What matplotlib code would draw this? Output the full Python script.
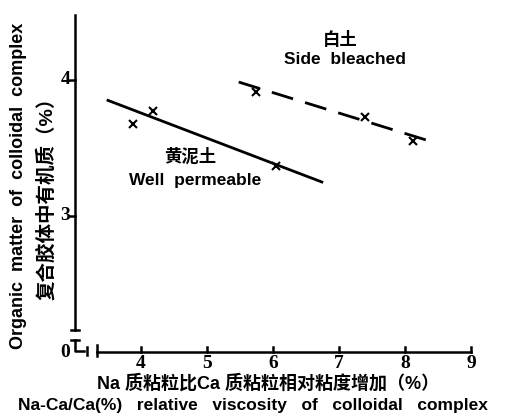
import numpy as np
import matplotlib
matplotlib.use('Agg')
import matplotlib.pyplot as plt

plt.rcParams['font.family'] = ['Liberation Sans', 'Noto Sans CJK SC', 'DejaVu Sans']

# dados
well_x = [3.88, 4.18, 6.05]
well_y = [3.68, 3.77, 3.37]
well_line_x = [3.5, 6.74]
well_line_y = [3.85, 3.25]

side_x = [5.74, 7.39, 8.12]
side_y = [3.91, 3.73, 3.55]
side_line_x = [5.48, 8.38]
side_line_y = [3.985, 3.55]

x_ticks = [4, 5, 6, 7, 8, 9]
y_ticks = [3, 4]
# eixo y quebrado: a posicao 2.0 recebe o rotulo "0"
y_zero_pos = 2.0

fig = plt.figure(figsize=(5.06, 4.19), dpi=100)
ax = fig.add_axes([75 / 506, 67 / 419, 396 / 506, 340 / 419])
ax.set_xlim(3, 9)
ax.set_ylim(2, 4.5)
for s in ax.spines.values():
    s.set_visible(False)
ax.set_xticks([])
ax.set_yticks([])

lw = 1.8
# eixo y
ax.plot([3, 3], [4.48, 2.16], color='black', lw=lw, clip_on=False)
ax.plot([2.94, 3.06], [2.16, 2.16], color='black', lw=lw, clip_on=False)
ax.plot([2.94, 3.06], [2.09, 2.09], color='black', lw=lw, clip_on=False)
ax.plot([3, 3, 3.14], [2.09, 2.01, 2.01], color='black', lw=lw, clip_on=False)
ax.plot([3.18, 3.18], [1.98, 2.04], color='black', lw=lw, clip_on=False)
# eixo x
ax.plot([3.33, 3.33], [1.97, 2.05], color='black', lw=lw, clip_on=False)
ax.plot([3.33, 9], [2.0, 2.0], color='black', lw=lw, clip_on=False)

for t in x_ticks:
    ax.plot([t, t], [2.0, 2.035], color='black', lw=lw, clip_on=False)
    ax.text(t, 1.975, str(t), ha='center', va='top', fontsize=14,
            family='Liberation Serif', fontweight='bold')
for t in y_ticks:
    ax.plot([2.92, 3.0], [t, t], color='black', lw=lw, clip_on=False)
    ax.text(2.93, t, str(t), ha='right', va='center', fontsize=14,
            family='Liberation Serif', fontweight='bold')
ax.text(2.93, y_zero_pos, '0', ha='right', va='center', fontsize=14,
        family='Liberation Serif', fontweight='bold')

# series
ax.plot(well_line_x, well_line_y, color='black', lw=2)
ax.plot(well_x, well_y, 'x', color='black', ms=6, mew=1.5)
ax.plot(side_line_x, side_line_y, color='black', lw=2, dashes=(8, 4.5))
ax.plot(side_x, side_y, 'x', color='black', ms=6, mew=1.5)

# rotulos das curvas
ax.text(7.02, 4.30, '白土', ha='center', va='center', fontsize=12.5, fontweight='bold')
ax.text(7.09, 4.15, 'Side  bleached', ha='center', va='center', fontsize=12.5, fontweight='bold')
ax.text(4.74, 3.44, '黄泥土', ha='center', va='center', fontsize=12.5, fontweight='bold')
ax.text(4.82, 3.26, 'Well  permeable', ha='center', va='center', fontsize=12.5, fontweight='bold')

# titulos dos eixos
fig.text(19 / 506, 1 - 186 / 419, 'Organic  matter  of  colloidal  complex', rotation=90,
         ha='center', va='center', fontsize=13, fontweight='bold')
fig.text(46 / 506, 1 - 194 / 419, '复合胶体中有机质（%）', rotation=90,
         ha='center', va='center', fontsize=14, fontweight='bold')
fig.text(268 / 506, 1 - 383 / 419, 'Na 质粘粒比Ca 质粘粒相对粘度增加（%）',
         ha='center', va='center', fontsize=13, fontweight='bold')
fig.text(253 / 506, 1 - 405 / 419, 'Na-Ca/Ca(%)   relative   viscosity   of   colloidal   complex',
         ha='center', va='center', fontsize=12.5, fontweight='bold')

plt.savefig('out.png', dpi=100)
